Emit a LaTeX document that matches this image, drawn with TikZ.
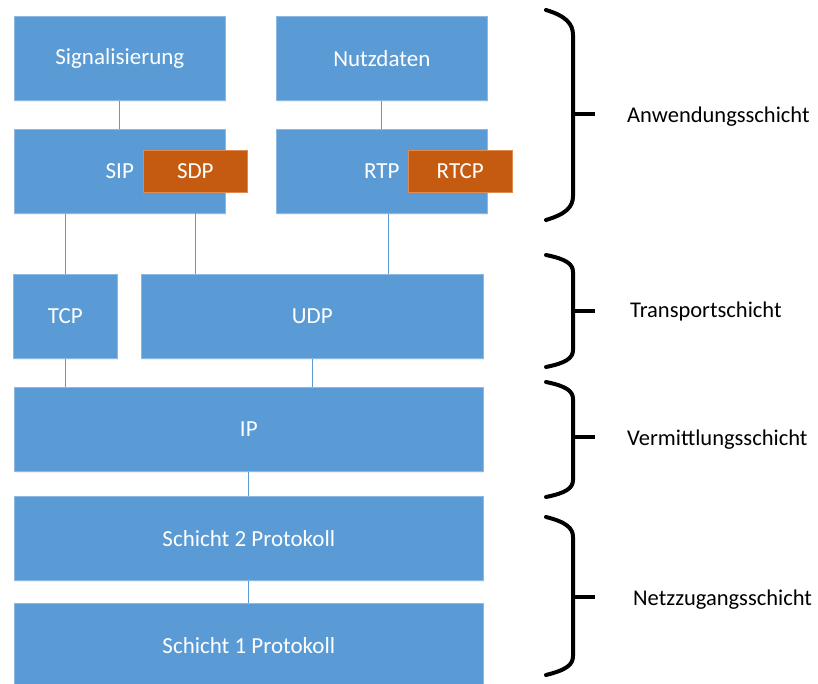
\documentclass[tikz,border=0pt]{standalone}
\usepackage{fontspec}
\setmainfont{Carlito}
\usetikzlibrary{shadows}
\definecolor{boxblue}{HTML}{5B9BD5}
\definecolor{boxedge}{HTML}{8DB8E2}
\definecolor{boxorange}{HTML}{C55A11}
\definecolor{edgeorange}{HTML}{E08A50}
\begin{document}
\begin{tikzpicture}[x=1pt,y=-1pt,
  layerbox/.style={draw=boxedge,line width=0.6pt,fill=boxblue,text=white,
    font=\fontsize{23}{27}\selectfont,inner sep=0pt,anchor=north west,
    drop shadow={opacity=0.12,shadow xshift=1pt,shadow yshift=-1.5pt}},
  subbox/.style={draw=edgeorange,line width=0.6pt,fill=boxorange,text=white,
    font=\fontsize{23}{27}\selectfont,inner sep=0pt,anchor=north west},
  link/.style={draw=boxblue,line width=1pt},
  brace/.style={draw=black,line width=4pt},
  layerlabel/.style={anchor=west,font=\fontsize{22.5}{27}\selectfont,text=black,inner sep=0pt}]
\useasboundingbox (0,0) rectangle (818,684);
\clip (0,0) rectangle (818,684);
% boxes
\node[layerbox,minimum width=211pt,minimum height=84pt] (sig) at (14,16) {Signalisierung};
\node[layerbox,minimum width=211pt,minimum height=84pt] (nutz) at (276,16) {Nutzdaten};
\node[layerbox,minimum width=211pt,minimum height=84pt] (sip) at (14,129) {SIP};
\node[layerbox,minimum width=211pt,minimum height=84pt] (rtp) at (276,129) {RTP};
\node[subbox,minimum width=104pt,minimum height=42pt] (sdp) at (143,150) {SDP};
\node[subbox,minimum width=104pt,minimum height=42pt] (rtcp) at (408,150) {RTCP};
\node[layerbox,minimum width=104pt,minimum height=84pt] (tcp) at (13,274) {TCP};
\node[layerbox,minimum width=342pt,minimum height=84pt] (udp) at (141,274) {UDP};
\node[layerbox,minimum width=469pt,minimum height=84pt] (ip) at (14,387) {IP};
\node[layerbox,minimum width=469pt,minimum height=84pt] (s2) at (14,496) {Schicht 2 Protokoll};
\node[layerbox,minimum width=469pt,minimum height=84pt] (s1) at (14,603) {Schicht 1 Protokoll};
% connectors
\path[link] (sig.south) -- (sip.north);
\path[link] (nutz.south) -- (rtp.north);
\path[link] (tcp.north) -- (tcp.north |- sip.south);
\path[link] (sdp.south) -- (sdp.south |- udp.north);
\path[link] ([xshift=6.5pt]rtp.south) -- ([xshift=6.5pt]rtp.south |- udp.north);
\path[link] (tcp.south) -- (tcp.south |- ip.north);
\path[link] (udp.south) -- (udp.south |- ip.north);
\path[link] (ip.south) -- (s2.north);
\path[link] (s2.south) -- (s2.south |- s1.north);
% braces
\coordinate (b1) at (573,114);
\path[brace,line cap=round] (546,10) .. controls (566,16) and (573,24) .. (573,35) -- (573,196) .. controls (573,207) and (566,214) .. (546,220);
\path[brace] (b1) -- (595,114);
\coordinate (b2) at (573,311);
\path[brace,line cap=round] (546,255) .. controls (566,259) and (573,264) .. (573,272) -- (573,350) .. controls (573,358) and (566,363) .. (546,367);
\path[brace] (b2) -- (595,311);
\coordinate (b3) at (573,437);
\path[brace,line cap=round] (546,382) .. controls (566,386) and (573,391) .. (573,399) -- (573,480) .. controls (573,488) and (566,493) .. (546,497);
\path[brace] (b3) -- (595,437);
\coordinate (b4) at (573,597);
\path[brace,line cap=round] (546,517) .. controls (566,522) and (573,528) .. (573,537) -- (573,656) .. controls (573,665) and (566,670) .. (546,675);
\path[brace] (b4) -- (595,597);
% labels
\node[layerlabel] (l1) at (627,117) {Anwendungsschicht};
\node[layerlabel] (l2) at (630,312) {Transportschicht};
\node[layerlabel] (l3) at (627,440) {Vermittlungsschicht};
\node[layerlabel] (l4) at (633,600) {Netzzugangsschicht};
\end{tikzpicture}
\end{document}
